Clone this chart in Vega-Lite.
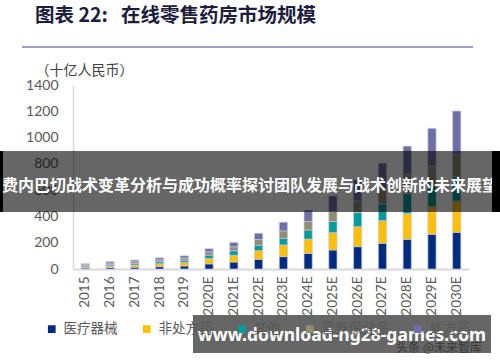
{
  "$schema": "https://vega.github.io/schema/vega-lite/v6.json",
  "width": 396,
  "height": 184,
  "autosize": "none",
  "padding": {"left": 73, "top": 85, "right": 31, "bottom": 93},
  "background": "white",
  "config": {"view": {"stroke": null}},
  "title": {
    "text": "图表 22:\u00a0\u00a0\u00a0在线零售药房市场规模",
    "anchor": "start",
    "frame": "group",
    "dx": -38,
    "offset": 20,
    "font": "Noto Sans CJK SC",
    "fontSize": 19.5,
    "fontWeight": "bold",
    "color": "#1c1c3c"
  },
  "layer": [
    {
      "data": {
        "values": [
          {"year": "2015", "医疗器械": 8, "非处方药": 9, "其他": 8, "营养保健品": 8, "处方药": 7},
          {"year": "2016", "医疗器械": 11, "非处方药": 13, "其他": 11, "营养保健品": 10, "处方药": 10},
          {"year": "2017", "医疗器械": 14, "非处方药": 17, "其他": 12, "营养保健品": 13, "处方药": 12},
          {"year": "2018", "医疗器械": 18, "非处方药": 22, "其他": 15, "营养保健品": 15, "处方药": 15},
          {"year": "2019", "医疗器械": 23, "非处方药": 29, "其他": 16, "营养保健品": 16, "处方药": 16},
          {"year": "2020E", "医疗器械": 39, "非处方药": 41, "其他": 26, "营养保健品": 25, "处方药": 23},
          {"year": "2021E", "医疗器械": 53, "非处方药": 51, "其他": 35, "营养保健品": 30, "处方药": 33},
          {"year": "2022E", "医疗器械": 74, "非处方药": 66, "其他": 41, "营养保健品": 43, "处方药": 48},
          {"year": "2023E", "医疗器械": 94, "非处方药": 89, "其他": 51, "营养保健品": 56, "处方药": 66},
          {"year": "2024E", "医疗器械": 119, "非处方药": 109, "其他": 68, "营养保健品": 66, "处方药": 86},
          {"year": "2025E", "医疗器械": 145, "非处方药": 132, "其他": 84, "营养保健品": 76, "处方药": 119},
          {"year": "2026E", "医疗器械": 170, "非处方药": 152, "其他": 107, "营养保健品": 89, "处方药": 160},
          {"year": "2027E", "医疗器械": 196, "非处方药": 172, "其他": 127, "营养保健品": 115, "处方药": 195},
          {"year": "2028E", "医疗器械": 226, "非处方药": 196, "其他": 150, "营养保健品": 148, "处方药": 215},
          {"year": "2029E", "医疗器械": 264, "非处方药": 210, "其他": 159, "营养保健品": 148, "处方药": 289},
          {"year": "2030E", "医疗器械": 279, "非处方药": 238, "其他": 185, "营养保健品": 165, "处方药": 335}
        ]
      },
      "transform": [
        {"fold": ["医疗器械", "非处方药", "其他", "营养保健品", "处方药"], "as": ["category", "value"]},
        {"window": [{"op": "row_number", "as": "stack_rank"}], "groupby": ["year"]}
      ],
      "mark": {"type": "bar", "stroke": "#c4c4e0", "strokeWidth": 0.7},
      "encoding": {
        "x": {
          "field": "year",
          "type": "nominal",
          "sort": null,
          "scale": {"paddingInner": 0.67, "paddingOuter": 0.33},
          "axis": {
            "title": null,
            "labelAngle": -90,
            "labelFont": "Lato",
            "labelFontSize": 13.5,
            "labelColor": "#595959",
            "ticks": false,
            "labelPadding": 7,
            "domainColor": "#d9d9d9",
            "domainWidth": 2
          }
        },
        "y": {
          "field": "value",
          "type": "quantitative",
          "stack": "zero",
          "scale": {"domain": [0, 1400]},
          "axis": {
            "title": "（十亿人民币）",
            "values": [0, 200, 400, 600, 800, 1000, 1200, 1400],
            "format": "d",
            "grid": false,
            "ticks": false,
            "labelPadding": 15,
            "labelFont": "Lato",
            "labelFontSize": 14,
            "labelColor": "#595959",
            "domainColor": "#d9d9d9",
            "domainWidth": 1.5,
            "titleAngle": 0,
            "titleAlign": "left",
            "titleBaseline": "middle",
            "titleX": -38,
            "titleY": -15,
            "titleFont": "Noto Sans CJK SC",
            "titleFontWeight": "normal",
            "titleFontSize": 14,
            "titleColor": "#404040"
          }
        },
        "color": {
          "field": "category",
          "type": "nominal",
          "sort": ["医疗器械", "非处方药", "其他", "营养保健品", "处方药"],
          "scale": {
            "domain": ["医疗器械", "非处方药", "其他", "营养保健品", "处方药"],
            "range": ["#002b7f", "#ffc000", "#009b9b", "#8f8e73", "#6e6ea8"]
          },
          "legend": {
            "title": null,
            "orient": "none",
            "legendX": -28,
            "legendY": 237,
            "direction": "horizontal",
            "symbolType": "square",
            "symbolSize": 60,
            "symbolStrokeWidth": 0,
            "labelFont": "Noto Sans CJK SC",
            "labelFontSize": 13.5,
            "labelColor": "#595959",
            "labelOffset": 5,
            "columnPadding": 22,
            "zindex": 0
          }
        },
        "order": {"field": "stack_rank", "type": "quantitative", "sort": "ascending"}
      }
    },
    {
      "data": {"values": [{"t": "头条 @未来智库"}]},
      "mark": {"type": "text", "font": "Noto Sans CJK SC", "fontSize": 12, "color": "#8a8a8a", "align": "center", "baseline": "middle"},
      "encoding": {"text": {"field": "t"}, "x": {"value": 366}, "y": {"value": 263}}
    },
    {
      "data": {"values": [{}]},
      "mark": {"type": "rule", "color": "#40408c", "strokeWidth": 1.2},
      "encoding": {"x": {"value": -51}, "x2": {"value": 400}, "y": {"value": -38}}
    },
    {
      "data": {"values": [{}]},
      "mark": {"type": "rect", "color": "#000000", "opacity": 0.6},
      "encoding": {"x": {"value": -73}, "x2": {"value": 427}, "y": {"value": 66}, "y2": {"value": 127}}
    },
    {
      "data": {"values": [{"t": "费内巴切战术变革分析与成功概率探讨团队发展与战术创新的未来展望"}]},
      "mark": {"type": "text", "font": "Noto Sans CJK SC", "fontSize": 16, "fontWeight": "bold", "color": "#ffffff", "align": "center", "baseline": "middle"},
      "encoding": {"text": {"field": "t"}, "x": {"value": 177}, "y": {"value": 101}}
    },
    {
      "data": {"values": [{}]},
      "mark": {"type": "rect", "color": "#000000"},
      "encoding": {"x": {"value": -73}, "x2": {"value": -70}, "y": {"value": 66}, "y2": {"value": 127}}
    },
    {
      "data": {"values": [{}]},
      "mark": {"type": "rect", "color": "#000000"},
      "encoding": {"x": {"value": 419}, "x2": {"value": 427}, "y": {"value": 66}, "y2": {"value": 127}}
    },
    {
      "data": {"values": [{}]},
      "mark": {"type": "rect", "color": "#000000", "opacity": 0.6},
      "encoding": {"x": {"value": 120}, "x2": {"value": 418}, "y": {"value": 230}, "y2": {"value": 268}}
    },
    {
      "data": {"values": [{"t": "www.download-ng28-games.com"}]},
      "mark": {"type": "text", "font": "Noto Sans", "fontSize": 17.5, "fontWeight": "bold", "color": "#ffffff", "align": "center", "baseline": "middle"},
      "encoding": {"text": {"field": "t"}, "x": {"value": 269}, "y": {"value": 251}}
    }
  ]
}
